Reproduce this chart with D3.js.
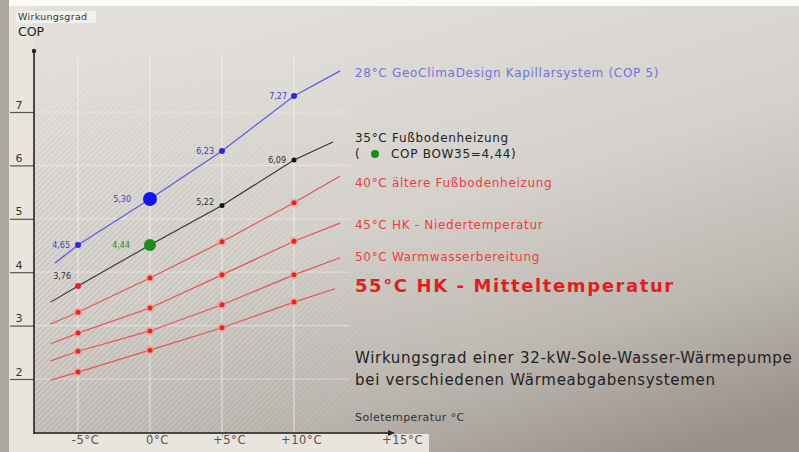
<!DOCTYPE html>
<html><head><meta charset="utf-8">
<script src="https://cdn.jsdelivr.net/npm/d3@7"></script>
<style>html,body{margin:0;padding:0;background:#fff;}svg{display:block;}</style>
</head><body>
<svg id="c" width="799" height="452"></svg>
<script>
// ---- data ----
const xTicks = [-5, 0, 5, 10, 15];
const xTickLabels = ["-5°C", "0°C", "+5°C", "+10°C", "+15°C"];
const yTicks = [2, 3, 4, 5, 6, 7];
const markerX = [-5, 0, 5, 10];

const s28x = [-6.6, -5, 0, 5, 10, 13.2];
const s28y = [4.17, 4.51, 5.37, 6.27, 7.30, 7.77];
const s28labels = ["4,65", "5,30", "6,23", "7,27"];

const s35x = [-6.9, -5, 0, 5, 10, 12.7];
const s35y = [3.44, 3.74, 4.51, 5.25, 6.10, 6.44];
const s35labels = ["3,76", "4,44", "5,22", "6,09"];

const s40x = [-6.9, -5, 0, 5, 10, 13.2];
const s40y = [3.03, 3.25, 3.89, 4.57, 5.30, 5.80];
const s45x = [-6.9, -5, 0, 5, 10, 13.2];
const s45y = [2.66, 2.86, 3.33, 3.95, 4.58, 4.92];
const s50x = [-6.9, -5, 0, 5, 10, 13.2];
const s50y = [2.34, 2.52, 2.90, 3.39, 3.95, 4.27];
const s55x = [-6.9, -5, 0, 5, 10, 12.85];
const s55y = [1.98, 2.13, 2.54, 2.96, 3.44, 3.69];

const legendTexts = [
  "28°C GeoClimaDesign Kapillarsystem (COP 5)",
  "35°C Fußbodenheizung",
  "COP BOW35=4,44)",
  "40°C ältere Fußbodenheizung",
  "45°C HK - Niedertemperatur",
  "50°C Warmwasserbereitung",
  "55°C HK - Mitteltemperatur"
];
const titleLines = ["Wirkungsgrad einer 32-kW-Sole-Wasser-Wärmepumpe", "bei verschiedenen Wärmeabgabensystemen"];

// ---- drawing ----
const svg = d3.select("#c");
const defs = svg.append("defs");

const bg = defs.append("linearGradient").attr("id", "bg")
  .attr("x1", "0.3").attr("y1", "0").attr("x2", "0.85").attr("y2", "1");
[[0, "#e3e0dc"], [0.45, "#d5d1cc"], [0.75, "#bdb7b1"], [1, "#98918a"]].forEach(([o, c]) =>
  bg.append("stop").attr("offset", o).attr("stop-color", c));

const pat = defs.append("pattern").attr("id", "hatch").attr("patternUnits", "userSpaceOnUse")
  .attr("width", 4).attr("height", 4).attr("patternTransform", "rotate(45)");
pat.append("line").attr("x1", 0).attr("y1", 0).attr("x2", 0).attr("y2", 4)
  .attr("stroke", "#8f8a86").attr("stroke-width", 1.3).attr("stroke-opacity", 0.5);

const mg = defs.append("radialGradient").attr("id", "mg")
  .attr("gradientUnits", "userSpaceOnUse").attr("cx", 60).attr("cy", 440).attr("r", 420);
mg.append("stop").attr("offset", 0).attr("stop-color", "#fff").attr("stop-opacity", 1);
mg.append("stop").attr("offset", 0.5).attr("stop-color", "#fff").attr("stop-opacity", 0.8);
mg.append("stop").attr("offset", 1).attr("stop-color", "#fff").attr("stop-opacity", 0);
defs.append("mask").attr("id", "hm").append("rect")
  .attr("x", 34).attr("y", 20).attr("width", 500).attr("height", 413).attr("fill", "url(#mg)");

svg.append("rect").attr("width", 799).attr("height", 452).attr("fill", "url(#bg)");
svg.append("rect").attr("x", 34).attr("y", 20).attr("width", 500).attr("height", 413)
  .attr("fill", "url(#hatch)").attr("mask", "url(#hm)");

// frame strips
svg.append("rect").attr("x", 0).attr("y", 0).attr("width", 799).attr("height", 6).attr("fill", "#fbfbfa");
svg.append("rect").attr("x", 0).attr("y", 0).attr("width", 9).attr("height", 452).attr("fill", "#aca69f");
svg.append("rect").attr("x", 9).attr("y", 6).attr("width", 25).attr("height", 446).attr("fill", "#e9e4dc");
svg.append("rect").attr("x", 9).attr("y", 434).attr("width", 420).attr("height", 18).attr("fill", "#e9e4dc");

const x = d3.scaleLinear().domain([-5, 10]).range([78, 294]);
const xLab = d3.scaleLinear().domain([-5, 10, 15]).range([78, 294, 395]);
const y = d3.scaleLinear().domain([2, 7]).range([379, 112]);

// grid
const grid = svg.append("g");
grid.selectAll("line.v").data(xTicks.slice(0, 4)).join("line")
  .attr("x1", d => x(d)).attr("x2", d => x(d)).attr("y1", 55).attr("y2", 433)
  .attr("stroke", "#f4f2ee").attr("stroke-opacity", 0.6).attr("stroke-width", 1.3);
grid.selectAll("line.h").data(yTicks).join("line")
  .attr("x1", 34).attr("x2", 350).attr("y1", d => y(d)).attr("y2", d => y(d))
  .attr("stroke", "#f4f2ee").attr("stroke-opacity", 0.5).attr("stroke-width", 1.2);

// y axis ticks & labels
const yAxis = d3.axisLeft(y).tickValues(yTicks).tickSize(24).tickFormat(d3.format("d"));
const ya = svg.append("g").attr("transform", "translate(34,0)").call(yAxis);
ya.select(".domain").remove();
ya.selectAll(".tick line").attr("stroke", "#555").attr("stroke-width", 1.2);
ya.selectAll(".tick text").attr("x", -15).attr("dy", "-0.35em").attr("text-anchor", "middle")
  .attr("font-family", "DejaVu Sans").attr("font-size", 11).attr("fill", "#333");

// x axis
const xAxis = d3.axisBottom(xLab).tickValues(xTicks).tickSize(4).tickFormat((d, i) => xTickLabels[i]);
const xa = svg.append("g").attr("transform", "translate(0,433)").call(xAxis);
xa.select(".domain").remove();
xa.selectAll(".tick line").attr("stroke", "#aaa");
xa.selectAll(".tick text").attr("x", 7).attr("y", 3).attr("dy", "0.71em")
  .attr("font-family", "DejaVu Sans").attr("font-size", 11.5).attr("letter-spacing", 0.6).attr("fill", "#555");

// axis lines
svg.append("line").attr("x1", 34).attr("x2", 34).attr("y1", 51).attr("y2", 434)
  .attr("stroke", "#222").attr("stroke-width", 1.6);
svg.append("circle").attr("cx", 34).attr("cy", 51).attr("r", 2.2).attr("fill", "#222");
svg.append("line").attr("x1", 34).attr("x2", 390).attr("y1", 433).attr("y2", 433)
  .attr("stroke", "#222").attr("stroke-width", 1.6);
svg.append("path").attr("d", "M388,430 L395,433 L388,436 Z").attr("fill", "#222");

// series lines
const line = d3.line().x(d => x(d[0])).y(d => y(d[1]));
const zip = (xs, ys) => xs.map((v, i) => [v, ys[i]]);
const series = [
  {xs: s28x, ys: s28y, c: "#5d5de8", w: 1.3},
  {xs: s35x, ys: s35y, c: "#333333", w: 1.1},
  {xs: s40x, ys: s40y, c: "#e25555", w: 1.2},
  {xs: s45x, ys: s45y, c: "#e25555", w: 1.2},
  {xs: s50x, ys: s50y, c: "#e25555", w: 1.2},
  {xs: s55x, ys: s55y, c: "#e25555", w: 1.2}
];
svg.append("g").selectAll("path").data(series).join("path")
  .attr("d", d => line(zip(d.xs, d.ys))).attr("fill", "none")
  .attr("stroke", d => d.c).attr("stroke-width", d => d.w);

// red markers
const reds = [s40y, s45y, s50y, s55y];
const rm = svg.append("g");
reds.forEach(ys => {
  const pts = markerX.map(v => [v, ys[s40x.indexOf(v)]]);
  rm.selectAll(null).data(pts).join("circle")
    .attr("cx", d => x(d[0])).attr("cy", d => y(d[1])).attr("r", 4.5)
    .attr("fill", "#f29a8e").attr("opacity", 0.6);
  rm.selectAll(null).data(pts).join("circle")
    .attr("cx", d => x(d[0])).attr("cy", d => y(d[1])).attr("r", 2.5).attr("fill", "#e02828");
});

// black markers
const bpts = markerX.map(v => [v, s35y[s35x.indexOf(v)]]);
svg.append("g").selectAll("circle").data(bpts).join("circle")
  .attr("cx", d => x(d[0])).attr("cy", d => y(d[1]))
  .attr("r", (d, i) => i === 0 ? 3 : 2.5)
  .attr("fill", (d, i) => i === 0 ? "#e02828" : "#111");
// green COP marker
svg.append("circle").attr("cx", x(0)).attr("cy", y(s35y[2])).attr("r", 6).attr("fill", "#1b8d1b");

// blue markers
const blpts = markerX.map(v => [v, s28y[s28x.indexOf(v)]]);
svg.append("g").selectAll("circle").data(blpts).join("circle")
  .attr("cx", d => x(d[0])).attr("cy", d => y(d[1]))
  .attr("r", (d, i) => i === 1 ? 7 : 3)
  .attr("fill", (d, i) => i === 1 ? "#1414ee" : "#2a2ad8");

// value labels
const lab = svg.append("g").attr("font-family", "DejaVu Sans").attr("font-size", 8).attr("text-anchor", "end");
const blueOff = [[-8, 3], [-19, 3], [-8, 3], [-7, 3]];
lab.selectAll("text.b").data(blpts).join("text")
  .attr("x", (d, i) => x(d[0]) + blueOff[i][0]).attr("y", (d, i) => y(d[1]) + blueOff[i][1])
  .attr("fill", "#3c3cd0").text((d, i) => s28labels[i]);
const blackOff = [[-7, -7], [-20, 3], [-8, 0], [-8, 3]];
lab.selectAll("text.k").data(bpts).join("text")
  .attr("x", (d, i) => x(d[0]) + blackOff[i][0]).attr("y", (d, i) => y(d[1]) + blackOff[i][1])
  .attr("fill", (d, i) => i === 1 ? "#2a8a2a" : "#333").text((d, i) => s35labels[i]);

// legend
const lg = svg.append("g").attr("font-family", "DejaVu Sans");
const L = 355, fs = 12, ls = 0.7;
lg.append("text").attr("x", L).attr("y", 77).attr("font-size", fs).attr("letter-spacing", ls).attr("fill", "#7373da").text(legendTexts[0]);
lg.append("text").attr("x", L).attr("y", 142).attr("font-size", fs).attr("letter-spacing", ls).attr("fill", "#222").text(legendTexts[1]);
lg.append("text").attr("x", L).attr("y", 158).attr("font-size", fs).attr("fill", "#222").text("(");
lg.append("circle").attr("cx", 375).attr("cy", 154).attr("r", 4).attr("fill", "#1b8d1b");
lg.append("text").attr("x", 391).attr("y", 158).attr("font-size", fs).attr("letter-spacing", ls).attr("fill", "#222").text(legendTexts[2]);
lg.append("text").attr("x", L).attr("y", 187).attr("font-size", fs).attr("letter-spacing", ls).attr("fill", "#e84040").text(legendTexts[3]);
lg.append("text").attr("x", L).attr("y", 229).attr("font-size", fs).attr("letter-spacing", ls).attr("fill", "#e84040").text(legendTexts[4]);
lg.append("text").attr("x", L).attr("y", 261).attr("font-size", fs).attr("letter-spacing", ls).attr("fill", "#e84040").text(legendTexts[5]);
lg.append("text").attr("x", L).attr("y", 292).attr("font-size", 18).attr("letter-spacing", 1.6).attr("font-weight", "bold").attr("fill", "#e01e1e").text(legendTexts[6]);

lg.append("text").attr("x", 355).attr("y", 363).attr("font-size", 15).attr("letter-spacing", 0.7).attr("fill", "#222").text(titleLines[0]);
lg.append("text").attr("x", 355).attr("y", 385).attr("font-size", 15).attr("letter-spacing", 0.7).attr("fill", "#222").text(titleLines[1]);
lg.append("text").attr("x", 355).attr("y", 421).attr("font-size", 11).attr("letter-spacing", 0.4).attr("fill", "#333").text("Soletemperatur °C");

// top-left axis title
svg.append("rect").attr("x", 16).attr("y", 11).attr("width", 80).attr("height", 12).attr("fill", "#f3f1ee");
svg.append("text").attr("x", 18).attr("y", 20).attr("font-family", "DejaVu Sans").attr("font-size", 9.5).attr("letter-spacing", 0.3).attr("fill", "#333").text("Wirkungsgrad");
svg.append("text").attr("x", 18).attr("y", 36).attr("font-family", "DejaVu Sans").attr("font-size", 12.5).attr("fill", "#222").text("COP");
</script>
</body></html>
